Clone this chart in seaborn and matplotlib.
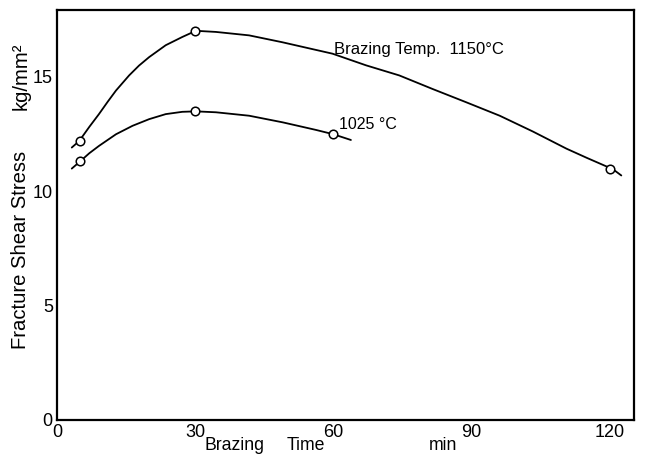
import matplotlib
matplotlib.use("Agg")
import matplotlib.pyplot as plt
import seaborn as sns
import pandas as pd
from matplotlib.ticker import MultipleLocator

# Measured points (open circles)
t1150 = [5, 30, 120]
s1150 = [12.2, 17.0, 10.95]
t1025 = [5, 30, 60]
s1025 = [11.3, 13.5, 12.5]

# Hand-drawn curves
c1150_t = [3.2, 4.8, 7.0, 9.1, 11.0, 12.8, 15.65, 17.8, 20.0, 23.6, 27.2, 30.15, 34.5, 41.7, 48.9, 52.6,
           59.8, 67.1, 74.3, 81.5, 88.8, 96.1, 103.3, 110.6, 115.0, 120.7, 122.5]
c1150_s = [11.9, 12.18, 12.8, 13.36, 13.9, 14.39, 15.05, 15.48, 15.85, 16.37, 16.73, 17.0, 16.95, 16.8,
           16.5, 16.33, 16.0, 15.49, 15.05, 14.46, 13.88, 13.29, 12.6, 11.85, 11.45, 10.95, 10.68]
c1025_t = [3.2, 4.93, 7.0, 9.1, 12.8, 16.4, 20.0, 23.6, 27.2, 30.15, 34.5, 41.7, 49.0, 56.2, 60.0, 63.8]
c1025_s = [10.98, 11.28, 11.65, 11.97, 12.48, 12.85, 13.14, 13.36, 13.46, 13.48, 13.44, 13.29, 13.0,
           12.67, 12.48, 12.23]

xticks = [0, 30, 60, 90, 120]
yticks = [0, 5, 10, 15]

sns.set_style("white")
plt.rcParams['font.family'] = ['Liberation Sans', 'DejaVu Sans']
plt.rcParams['text.color'] = 'black'

fig = plt.figure(figsize=(6.48, 4.63), dpi=100)
ax = fig.add_axes([0.088, 0.093, 0.89, 0.885])

curves = pd.concat([
    pd.DataFrame({"t": c1150_t, "s": c1150_s, "temp": "1150"}),
    pd.DataFrame({"t": c1025_t, "s": c1025_s, "temp": "1025"}),
])
pts = pd.concat([
    pd.DataFrame({"t": t1150, "s": s1150, "temp": "1150"}),
    pd.DataFrame({"t": t1025, "s": s1025, "temp": "1025"}),
])

sns.lineplot(data=curves, x="t", y="s", units="temp", estimator=None, sort=False,
             color="black", linewidth=1.3, ax=ax, legend=False)
sns.scatterplot(data=pts, x="t", y="s", marker="o", s=38, facecolor="white",
                edgecolor="black", linewidth=1.1, ax=ax, legend=False, zorder=3)

ax.set_xlim(0, 125.2)
ax.set_ylim(0, 17.9)
ax.set_xticks(xticks)
ax.set_yticks(yticks)
ax.xaxis.set_minor_locator(MultipleLocator(10))
ax.tick_params(direction="in", length=4, width=1, labelsize=13, colors="black", pad=3)
ax.tick_params(which="minor", direction="in", length=4, width=1)
ax.set_xlabel("")
ax.set_ylabel("")
for sp in ax.spines.values():
    sp.set_visible(True)
    sp.set_color("black")
    sp.set_linewidth(1.6)

ax.text(60.2, 16.2, "Brazing Temp.  1150°C", fontsize=12, va="center", ha="left", color="black")
ax.text(61.3, 12.9, "1025 °C", fontsize=11.5, va="center", ha="left", color="black")

fig.text(21 / 648, 1 - 250 / 463, "Fracture Shear Stress", rotation=90, fontsize=14.6,
         ha="center", va="center", color="black")
fig.text(21 / 648, 1 - 76 / 463, "kg/mm²", rotation=90, fontsize=14.6,
         ha="center", va="center", color="black")
fig.text(235 / 648, 1 - 446 / 463, "Brazing", fontsize=12.7, ha="center", va="center", color="black")
fig.text(306 / 648, 1 - 446 / 463, "Time", fontsize=12.7, ha="center", va="center", color="black")
fig.text(443 / 648, 1 - 446 / 463, "min", fontsize=12.7, ha="center", va="center", color="black")

fig.savefig("out.png", dpi=100)
